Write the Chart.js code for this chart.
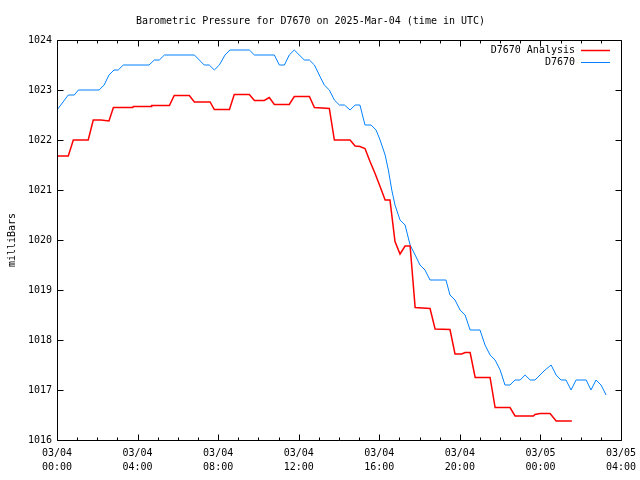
<!DOCTYPE html>
<html>
<head>
<meta charset="utf-8">
<title>Barometric Pressure D7670</title>
<script src="https://cdn.jsdelivr.net/npm/chart.js@4.4.1/dist/chart.umd.min.js"></script>
<style>
    html, body { margin: 0; padding: 0; background: #fff; }
    #ControlPressure { display: block; }
</style>
</head>
<body>
<canvas id="ControlPressure" width="640" height="480"></canvas>
<script>
// hours since 03/04 00:00 UTC
var analysisHours = [0, 0.56, 0.81, 1.55, 1.80, 2.18, 2.58, 2.80, 3.76, 3.79, 4.67, 4.70, 5.58, 5.82, 6.57,
    6.82, 7.60, 7.81, 8.56, 8.80, 9.55, 9.80, 10.29, 10.54, 10.79, 11.53, 11.78, 12.53, 12.78, 13.52,
    13.77, 14.55, 14.80, 15.04, 15.29, 15.54, 15.79, 16.04, 16.29, 16.53, 16.78, 17.03, 17.28, 17.53, 17.78,
    18.52, 18.77, 19.51, 19.76, 20.09, 20.26, 20.51, 20.76, 21.50, 21.75, 22.49, 22.74, 23.65, 23.73, 23.98,
    24.48, 24.78, 25.56];
var analysisPressure = [1021.68, 1021.68, 1022.0, 1022.0, 1022.4, 1022.4, 1022.38, 1022.65, 1022.65, 1022.67,
    1022.67, 1022.69, 1022.69, 1022.89, 1022.89, 1022.76, 1022.76, 1022.61, 1022.61, 1022.91,
    1022.91, 1022.79, 1022.79, 1022.85, 1022.71, 1022.71, 1022.87, 1022.87, 1022.65, 1022.63,
    1022.0, 1022.0, 1021.88, 1021.87, 1021.83, 1021.57, 1021.33, 1021.07, 1020.8, 1020.8,
    1019.97, 1019.72, 1019.88, 1019.88, 1018.65, 1018.63, 1018.22, 1018.21, 1017.72, 1017.72,
    1017.75, 1017.75, 1017.25, 1017.25, 1016.65, 1016.65, 1016.48, 1016.48, 1016.51, 1016.53,
    1016.53, 1016.38, 1016.38];

var obsHours = [0, 0.56, 0.86, 1.06, 2.09, 2.34, 2.58, 2.83, 3.04, 3.29, 4.57, 4.83, 5.08, 5.33, 6.82,
    7.31, 7.56, 7.81, 8.06, 8.34, 8.59, 9.55, 9.80, 10.79, 11.04, 11.29, 11.53, 11.78, 12.28, 12.53,
    12.78, 13.02, 13.27, 13.52, 13.77, 14.02, 14.27, 14.55, 14.80, 15.04, 15.29, 15.59, 15.84, 16.04,
    16.29, 16.45, 16.62, 16.78, 17.03, 17.28, 17.53, 17.78, 18.02, 18.27, 18.52, 19.31, 19.51, 19.76,
    20.01, 20.26, 20.51, 21.00, 21.25, 21.50, 21.75, 22.00, 22.24, 22.49, 22.74, 22.99, 23.24, 23.49,
    23.73, 23.98, 24.23, 24.53, 24.78, 25.02, 25.27, 25.52, 25.77, 26.27, 26.51, 26.76, 27.01, 27.26];
var obsPressure = [1022.6, 1022.9, 1022.9, 1023.0, 1023.0, 1023.1, 1023.3, 1023.4, 1023.4, 1023.5,
    1023.5, 1023.6, 1023.6, 1023.7, 1023.7, 1023.5, 1023.5, 1023.4, 1023.5, 1023.7,
    1023.8, 1023.8, 1023.7, 1023.7, 1023.5, 1023.5, 1023.7, 1023.8, 1023.6, 1023.6,
    1023.5, 1023.3, 1023.1, 1023.0, 1022.8, 1022.7, 1022.7, 1022.6, 1022.7, 1022.7,
    1022.3, 1022.3, 1022.2, 1022.0, 1021.7, 1021.4, 1021.0, 1020.7, 1020.4, 1020.3,
    1019.9, 1019.7, 1019.5, 1019.4, 1019.2, 1019.2, 1018.9, 1018.8, 1018.6, 1018.5,
    1018.2, 1018.2, 1017.9, 1017.7, 1017.6, 1017.4, 1017.1, 1017.1, 1017.2, 1017.2,
    1017.3, 1017.2, 1017.2, 1017.3, 1017.4, 1017.5, 1017.3, 1017.2, 1017.2, 1017.0,
    1017.2, 1017.2, 1017.0, 1017.2, 1017.1, 1016.9];

// one label per 4 hour tick
var xTickLabels = [
    ['03/04', '00:00'], ['03/04', '04:00'], ['03/04', '08:00'], ['03/04', '12:00'],
    ['03/04', '16:00'], ['03/04', '20:00'], ['03/05', '00:00'], ['03/05', '04:00']
];
var seriesNames = ['D7670 Analysis', 'D7670'];
var seriesColors = ['#ff0000', '#0080ff'];

var FONT = "'DejaVu Sans Mono', 'Liberation Mono', monospace";

var pressureChart = {

    toPoints: function (hours, values) {
        var pts = [];
        for (var i = 0; i < hours.length; i++) {
            pts.push({ x: hours[i], y: values[i] });
        }
        return pts;
    },

    // gnuplot style box with inward ticks on all sides
    framePlugin: {
        id: 'frame',
        afterDatasetsDraw: function (chart) {
            var ctx = chart.ctx;
            var a = chart.chartArea;
            var xs = chart.scales.x;
            var ys = chart.scales.y;
            var l = Math.round(a.left) + 0.5, r = Math.round(a.right) + 0.5;
            var t = Math.round(a.top) + 0.5, b = Math.round(a.bottom) + 0.5;

            ctx.save();
            ctx.strokeStyle = '#000';
            ctx.lineWidth = 1;
            ctx.beginPath();
            ctx.rect(l, t, r - l, b - t);

            for (var h = xs.min; h <= xs.max; h++) {
                var px = Math.round(xs.getPixelForValue(h)) + 0.5;
                var len = (h % 4 === 0) ? 6 : 3;
                ctx.moveTo(px, b); ctx.lineTo(px, b - len);
                ctx.moveTo(px, t); ctx.lineTo(px, t + len);
            }
            for (var v = ys.min; v <= ys.max; v++) {
                var py = Math.round(ys.getPixelForValue(v)) + 0.5;
                ctx.moveTo(l, py); ctx.lineTo(l + 6, py);
                ctx.moveTo(r, py); ctx.lineTo(r - 6, py);
            }
            ctx.stroke();

            // key, top right inside the box
            ctx.font = '10px ' + FONT;
            ctx.fillStyle = '#000';
            ctx.textAlign = 'right';
            ctx.textBaseline = 'middle';
            chart.data.datasets.forEach(function (ds, i) {
                var y = 50 + i * 12;
                ctx.fillText(ds.label, 575, y);
                ctx.beginPath();
                ctx.strokeStyle = ds.borderColor;
                ctx.lineWidth = ds.borderWidth;
                ctx.moveTo(581, y + 0.5);
                ctx.lineTo(610, y + 0.5);
                ctx.stroke();
            });
            ctx.restore();
        }
    },

    load: function () {
        var ctxL = document.getElementById('ControlPressure').getContext('2d');

        Chart.defaults.font.family = FONT;
        Chart.defaults.font.size = 10;
        Chart.defaults.color = '#000';

        new Chart(ctxL, {
            type: 'line',
            data: {
                datasets: [{
                    label: seriesNames[0],
                    data: pressureChart.toPoints(analysisHours, analysisPressure),
                    borderColor: seriesColors[0],
                    borderWidth: 1.5,
                    pointRadius: 0,
                    tension: 0,
                    fill: false
                },
                {
                    label: seriesNames[1],
                    data: pressureChart.toPoints(obsHours, obsPressure),
                    borderColor: seriesColors[1],
                    borderWidth: 1,
                    pointRadius: 0,
                    tension: 0,
                    fill: false
                }]
            },
            options: {
                responsive: false,
                animation: false,
                devicePixelRatio: 1,
                layout: { padding: { left: 0, right: 19, top: 0, bottom: 0 } },
                plugins: {
                    legend: { display: false },
                    tooltip: { enabled: false },
                    title: {
                        display: true,
                        text: 'Barometric Pressure for D7670 on 2025-Mar-04 (time in UTC)',
                        font: { family: FONT, size: 10, weight: 'normal', lineHeight: 1.2 },
                        color: '#000',
                        padding: { top: 15, bottom: 13 }
                    }
                },
                scales: {
                    x: {
                        type: 'linear',
                        min: 0,
                        max: 28,
                        grid: { display: false, drawTicks: false },
                        border: { display: false },
                        ticks: {
                            stepSize: 4,
                            autoSkip: false,
                            maxRotation: 0,
                            padding: 6,
                            font: { family: FONT, size: 10, lineHeight: 1.4 },
                            callback: function (value) {
                                return xTickLabels[Math.round(value / 4)];
                            }
                        },
                        afterFit: function (scale) {
                            scale.height = 40;
                            scale.paddingLeft = 0;
                            scale.paddingRight = 0;
                        }
                    },
                    y: {
                        min: 1016,
                        max: 1024,
                        grid: { display: false, drawTicks: false },
                        border: { display: false },
                        title: {
                            display: true,
                            text: 'milliBars',
                            font: { family: FONT, size: 10, lineHeight: 1.2 },
                            padding: { top: 6, bottom: 0 }
                        },
                        ticks: {
                            stepSize: 1,
                            padding: 5,
                            callback: function (value) { return String(value); }
                        },
                        afterFit: function (scale) { scale.width = 57; }
                    }
                }
            },
            plugins: [pressureChart.framePlugin]
        });
    }
};

pressureChart.load();
</script>
</body>
</html>
